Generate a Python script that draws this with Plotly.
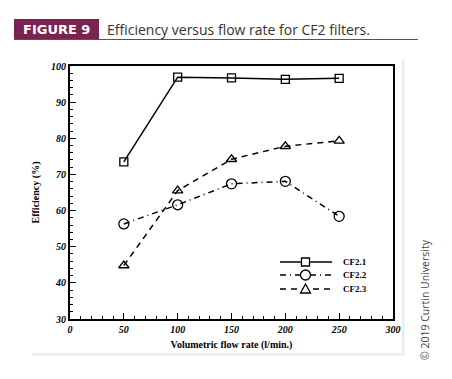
import plotly.graph_objects as go

flow = [50, 100, 150, 200, 250]
cf21 = [73.5, 96.9, 96.7, 96.3, 96.6]
cf22 = [56.3, 61.6, 67.4, 68.1, 58.4]
cf23 = [44.8, 65.5, 74.2, 77.8, 79.3]
series_names = ["CF2.1", "CF2.2", "CF2.3"]

OFF = 8  # page body margin
W, H = 452 - OFF, 379 - OFF
L, R, T, B = 70 - OFF, 393 - OFF, 66 - OFF, 319 - OFF
pw, ph = R - L, B - T

def px(x):
    return (x - OFF - L) / pw

def py(y):
    return (B - (y - OFF)) / ph

styles = [
    dict(dash="solid", symbol="square-open", size=8),
    dict(dash="6px,4px,1px,4px", symbol="circle-open", size=10),
    dict(dash="6px,5px", symbol="triangle-up-open", size=9),
]

fig = go.Figure()
for name, vals, st in zip(series_names, [cf21, cf22, cf23], styles):
    fig.add_trace(go.Scatter(x=flow, y=vals, name=name, mode="lines+markers", showlegend=False,
                             line=dict(color="black", width=1.5, dash=st["dash"]),
                             marker=dict(symbol=st["symbol"], size=st["size"], color="black",
                                         line=dict(width=1.3))))

tickfont = dict(family="Liberation Serif", size=10, color="black", weight="bold", style="italic")
titlefont = dict(family="Liberation Serif", size=10, color="black", weight="bold")

fig.update_xaxes(range=[0, 300], tickvals=[0, 50, 100, 150, 200, 250, 300],
                 ticks="inside", ticklen=6, tickwidth=1.2, tickcolor="black",
                 minor=dict(dtick=10, ticks="inside", ticklen=3, tickcolor="black", tickwidth=1),
                 showline=True, linecolor="black", linewidth=1.8, mirror=True,
                 showgrid=False, zeroline=False, tickfont=tickfont,
                 title=dict(text="Volumetric flow rate (l/min.)", font=titlefont, standoff=7))
fig.update_yaxes(range=[30, 100], tickvals=[30, 40, 50, 60, 70, 80, 90, 100],
                 ticks="inside", ticklen=6, tickwidth=1.2, tickcolor="black",
                 minor=dict(dtick=2, ticks="inside", ticklen=3, tickcolor="black", tickwidth=1),
                 showline=True, linecolor="black", linewidth=1.8, mirror=True,
                 showgrid=False, zeroline=False, tickfont=tickfont,
                 title=dict(text="Efficiency (%)", font=titlefont, standoff=10))

shapes = []
# card shadow and card
for i, c in enumerate(["#f4f4f4", "#ececec"]):
    o = 3 - i
    shapes.append(dict(type="rect", xref="paper", yref="paper", layer="below",
                       x0=px(30 + o), x1=px(402 + o), y0=py(353 + o), y1=py(58 + o),
                       line=dict(width=0), fillcolor=c))
shapes.append(dict(type="rect", xref="paper", yref="paper", layer="below",
                   x0=px(30), x1=px(402), y0=py(353), y1=py(58),
                   line=dict(width=0), fillcolor="white"))
# title band
shapes.append(dict(type="rect", xref="paper", yref="paper",
                   x0=px(14), x1=px(99), y0=py(39), y1=py(19),
                   line=dict(width=0), fillcolor="#7b2350"))
shapes.append(dict(type="line", xref="paper", yref="paper",
                   x0=px(14), x1=px(418), y0=py(39.5), y1=py(39.5),
                   line=dict(color="#555555", width=1.2)))

annotations = [
    dict(text="<b>FIGURE 9</b>", xref="paper", yref="paper", x=px(56.5), y=py(29.5),
         xanchor="center", yanchor="middle", showarrow=False,
         font=dict(family="DejaVu Sans", size=13, color="white")),
    dict(text="Efficiency versus flow rate for CF2 filters.", xref="paper", yref="paper",
         x=px(105), y=py(29.5), xanchor="left", yanchor="middle", showarrow=False,
         font=dict(family="Open Sans", size=14, color="#333333")),
    dict(text="© 2019 Curtin University", xref="paper", yref="paper", x=px(425), y=py(300),
         xanchor="center", yanchor="middle", showarrow=False, textangle=-90,
         font=dict(family="Open Sans", size=10.5, color="#444444")),
]

# manual legend (line samples, marker glyphs, labels)
leg_rows = [262, 275, 289]
for name, st, yy in zip(series_names, styles, leg_rows):
    shapes.append(dict(type="line", xref="paper", yref="paper",
                       x0=px(280), x1=px(332), y0=py(yy), y1=py(yy),
                       line=dict(color="black", width=1.5, dash=st["dash"])))
    annotations.append(dict(text=name, xref="paper", yref="paper", x=px(341), y=py(yy),
                            xanchor="left", yanchor="middle", showarrow=False,
                            font=dict(family="Liberation Serif", size=9, color="black", weight="bold")))
cx = 305.5
# square
shapes.append(dict(type="rect", xref="paper", yref="paper", x0=px(cx - 4), x1=px(cx + 4),
                   y0=py(leg_rows[0] + 4), y1=py(leg_rows[0] - 4),
                   line=dict(color="black", width=1.3), fillcolor="white"))
# circle
shapes.append(dict(type="circle", xref="paper", yref="paper", x0=px(cx - 5), x1=px(cx + 5),
                   y0=py(leg_rows[1] + 5), y1=py(leg_rows[1] - 5),
                   line=dict(color="black", width=1.3), fillcolor="white"))
# triangle
ty = leg_rows[2]
path = "M {} {} L {} {} L {} {} Z".format(px(cx - 5), py(ty + 4), px(cx + 5), py(ty + 4), px(cx), py(ty - 5))
shapes.append(dict(type="path", xref="paper", yref="paper", path=path,
                   line=dict(color="black", width=1.3), fillcolor="white"))

fig.update_layout(
    width=W, height=H,
    margin=dict(l=L, r=W - R, t=T, b=H - B),
    paper_bgcolor="white", plot_bgcolor="white",
    shapes=shapes, annotations=annotations,
    showlegend=False,
)

fig.write_html("out.html")
